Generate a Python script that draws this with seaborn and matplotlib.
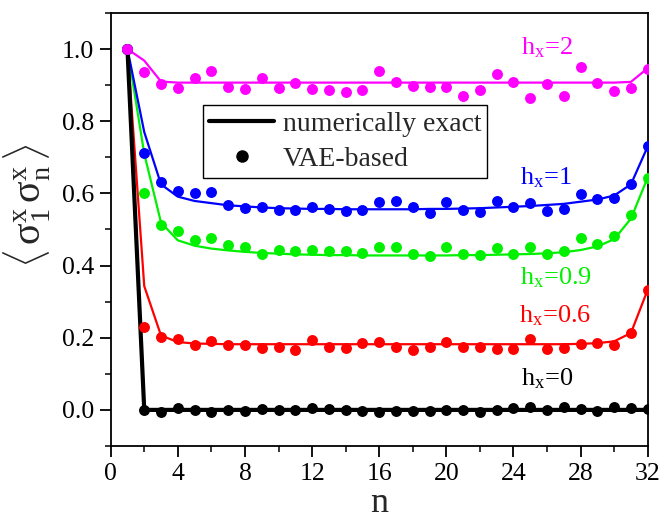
import matplotlib
matplotlib.use("Agg")
import matplotlib.pyplot as plt
import seaborn as sns
import pandas as pd
from matplotlib.lines import Line2D
from matplotlib.ticker import MultipleLocator

# ---------------- data ----------------
n = list(range(1, 33))

labels = ["h$_{\\mathrm{x}}$=0", "h$_{\\mathrm{x}}$=0.6", "h$_{\\mathrm{x}}$=0.9",
          "h$_{\\mathrm{x}}$=1", "h$_{\\mathrm{x}}$=2"]
colors = ["#000000", "#FF0000", "#00F000", "#0000FF", "#FF00FF"]

# numerically exact (lines)
exact_h0 = [1.0, 0.0, 0.0, 0.0, 0.0, 0.0, 0.0, 0.0, 0.0, 0.0, 0.0, 0.0, 0.0, 0.0, 0.0, 0.0,
            0.0, 0.0, 0.0, 0.0, 0.0, 0.0, 0.0, 0.0, 0.0, 0.0, 0.0, 0.0, 0.0, 0.0, 0.0, 0.0]
exact_h06 = [1.0, 0.343, 0.206, 0.188, 0.184, 0.183, 0.182, 0.182, 0.182, 0.182, 0.182, 0.182,
             0.182, 0.182, 0.182, 0.182, 0.182, 0.182, 0.182, 0.182, 0.182, 0.182, 0.182, 0.182,
             0.182, 0.182, 0.182, 0.183, 0.185, 0.190, 0.213, 0.333]
exact_h09 = [1.0, 0.71, 0.519, 0.470, 0.455, 0.447, 0.442, 0.438, 0.435, 0.433, 0.431, 0.430,
             0.429, 0.429, 0.428, 0.428, 0.428, 0.428, 0.428, 0.428, 0.429, 0.429, 0.430, 0.431,
             0.432, 0.434, 0.437, 0.443, 0.453, 0.473, 0.530, 0.644]
exact_h1 = [1.0, 0.77, 0.625, 0.591, 0.579, 0.573, 0.567, 0.564, 0.561, 0.559, 0.558, 0.557,
            0.557, 0.556, 0.556, 0.556, 0.556, 0.556, 0.557, 0.557, 0.558, 0.559, 0.561, 0.563,
            0.565, 0.568, 0.571, 0.577, 0.583, 0.594, 0.625, 0.730]
exact_h2 = [1.0, 0.968, 0.910, 0.907, 0.907, 0.907, 0.907, 0.907, 0.907, 0.907, 0.907, 0.907,
            0.907, 0.907, 0.907, 0.907, 0.907, 0.907, 0.907, 0.907, 0.907, 0.907, 0.907, 0.907,
            0.907, 0.907, 0.907, 0.907, 0.907, 0.907, 0.909, 0.947]

# VAE-based (points)
vae_h0 = [1.0, 0.0, -0.005, 0.004, 0.0, -0.006, 0.001, -0.003, 0.003, -0.001, -0.001, 0.005,
          0.003, -0.001, -0.003, -0.005, -0.003, -0.002, -0.002, 0.0, 0.0, -0.005, 0.0, 0.006,
          0.007, 0.0, 0.009, 0.002, -0.002, 0.007, 0.005, 0.002]
vae_h06 = [1.0, 0.229, 0.201, 0.197, 0.179, 0.190, 0.179, 0.179, 0.171, 0.173, 0.167, 0.194,
           0.174, 0.171, 0.186, 0.189, 0.174, 0.165, 0.173, 0.188, 0.175, 0.174, 0.170, 0.169,
           0.196, 0.169, 0.172, 0.182, 0.185, 0.181, 0.213, 0.333]
vae_h09 = [1.0, 0.602, 0.513, 0.495, 0.472, 0.477, 0.456, 0.451, 0.432, 0.443, 0.439, 0.444,
           0.439, 0.439, 0.435, 0.452, 0.452, 0.432, 0.427, 0.451, 0.433, 0.429, 0.448, 0.432,
           0.452, 0.433, 0.440, 0.476, 0.459, 0.481, 0.539, 0.644]
vae_h1 = [1.0, 0.713, 0.631, 0.606, 0.601, 0.604, 0.569, 0.560, 0.562, 0.555, 0.555, 0.563,
          0.558, 0.551, 0.555, 0.576, 0.580, 0.562, 0.546, 0.575, 0.555, 0.549, 0.580, 0.562,
          0.574, 0.551, 0.556, 0.598, 0.584, 0.586, 0.627, 0.730]
vae_h2 = [1.0, 0.937, 0.903, 0.891, 0.921, 0.940, 0.896, 0.889, 0.919, 0.893, 0.906, 0.889,
          0.887, 0.881, 0.887, 0.940, 0.910, 0.897, 0.896, 0.895, 0.871, 0.886, 0.931, 0.909,
          0.864, 0.904, 0.871, 0.950, 0.907, 0.884, 0.891, 0.944]

# annotation positions (data coords)
label_x = [24.45, 24.35, 24.4, 24.4, 24.45]
label_y = [0.069, 0.242, 0.347, 0.625, 0.986]

exact_all = [exact_h0, exact_h06, exact_h09, exact_h1, exact_h2]
vae_all = [vae_h0, vae_h06, vae_h09, vae_h1, vae_h2]

# ---------------- style ----------------
sns.set_style("ticks")
plt.rcParams["font.family"] = ["Liberation Serif", "DejaVu Serif"]
plt.rcParams["mathtext.fontset"] = "custom"
plt.rcParams["mathtext.rm"] = "Liberation Serif"
plt.rcParams["mathtext.it"] = "Liberation Serif:italic"
plt.rcParams["mathtext.bf"] = "Liberation Serif:bold"

fig = plt.figure(figsize=(6.62, 5.19), dpi=100)
ax = fig.add_axes([0.1672, 0.1407, 0.8112, 0.8343])

line_w = [3.0, 1.6, 1.6, 1.6, 1.6]
for i in range(5):
    df = pd.DataFrame({"n": n, "v": exact_all[i]})
    sns.lineplot(data=df, x="n", y="v", color=colors[i], lw=line_w[i], ax=ax,
                 zorder=2 if i else 3)
for i in range(5):
    df = pd.DataFrame({"n": n, "v": vae_all[i]})
    sns.scatterplot(data=df, x="n", y="v", color=colors[i], s=62, linewidth=0,
                    ax=ax, zorder=4)

for i in range(5):
    ax.text(label_x[i], label_y[i], labels[i], color=colors[i], fontsize=19,
            ha="left", va="baseline")

ax.set_xlim(0, 32)
ax.set_ylim(-0.1, 1.1)
ax.xaxis.set_major_locator(MultipleLocator(4))
ax.xaxis.set_minor_locator(MultipleLocator(2))
ax.yaxis.set_major_locator(MultipleLocator(0.2))
ax.yaxis.set_minor_locator(MultipleLocator(0.1))
ax.set_yticks([0.0, 0.2, 0.4, 0.6, 0.8, 1.0])
ax.set_yticklabels(["0.0", "0.2", "0.4", "0.6", "0.8", "1.0"])
ax.tick_params(which="major", direction="out", length=8, width=1.3, labelsize=18.5,
               pad=4, colors="black")
ax.tick_params(which="minor", direction="out", length=4.5, width=1.3)
for sp in ax.spines.values():
    sp.set_linewidth(1.3)
    sp.set_color("black")
    sp.set_visible(True)

ax.set_xlabel("n", fontsize=26, labelpad=2)
ax.set_ylabel(r"$\langle\,\mathrm{\sigma}^{\mathrm{x}}_{\mathrm{1}}\,\mathrm{\sigma}^{\mathrm{x}}_{\mathrm{n}}\,\rangle$",
              fontsize=29)
ax.yaxis.set_label_coords(-0.107, 0.554)

handles = [Line2D([], [], color="black", lw=3),
           Line2D([], [], color="black", marker="o", ls="none", markersize=8)]
leg = ax.legend(handles, ["numerically exact", "VAE-based"], loc="upper left",
                bbox_to_anchor=(0.172, 0.787), fontsize=20, frameon=True,
                fancybox=False, edgecolor="black", framealpha=1,
                handlelength=2.35, handletextpad=0.3, borderpad=0.22,
                labelspacing=0.35, borderaxespad=0)
leg.get_frame().set_linewidth(1.0)

fig.savefig("out.png", dpi=100)
